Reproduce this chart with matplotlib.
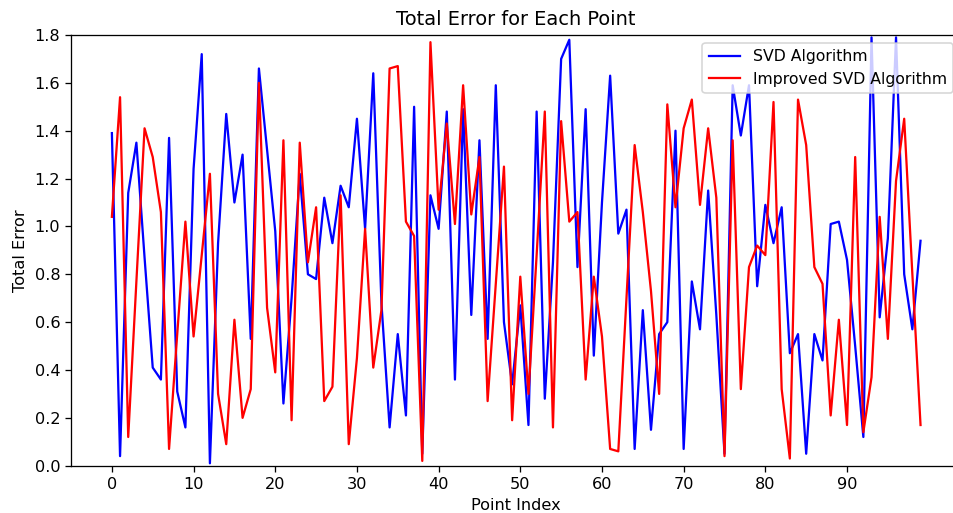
import matplotlib
matplotlib.use("Agg")
import matplotlib.pyplot as plt
import numpy as np

svd_errors = [
    1.39, 0.04, 1.14, 1.35, 0.87, 0.41, 0.36, 1.37, 0.31, 0.16,
    1.24, 1.72, 0.01, 0.93, 1.47, 1.10, 1.30, 0.53, 1.66, 1.32,
    0.98, 0.26, 0.70, 1.22, 0.80, 0.78, 1.12, 0.93, 1.17, 1.08,
    1.45, 0.99, 1.64, 0.68, 0.16, 0.55, 0.21, 1.50, 0.05, 1.13,
    0.99, 1.48, 0.36, 1.49, 0.63, 1.36, 0.53, 1.59, 0.60, 0.34,
    0.67, 0.17, 1.48, 0.28, 0.85, 1.70, 1.78, 0.83, 1.49, 0.46,
    1.10, 1.63, 0.97, 1.07, 0.07, 0.65, 0.15, 0.55, 0.60, 1.40,
    0.07, 0.77, 0.57, 1.15, 0.63, 0.05, 1.59, 1.38, 1.59, 0.75,
    1.09, 0.93, 1.08, 0.47, 0.55, 0.05, 0.55, 0.44, 1.01, 1.02,
    0.86, 0.50, 0.12, 1.79, 0.62, 0.95, 1.79, 0.80, 0.57, 0.94,
]

improved_errors = [
    1.04, 1.54, 0.12, 0.77, 1.41, 1.29, 1.06, 0.07, 0.55, 1.02,
    0.54, 0.88, 1.22, 0.30, 0.09, 0.61, 0.20, 0.32, 1.60, 0.66,
    0.39, 1.36, 0.19, 1.35, 0.85, 1.08, 0.27, 0.33, 1.13, 0.09,
    0.45, 0.99, 0.41, 0.65, 1.66, 1.67, 1.02, 0.96, 0.02, 1.77,
    1.07, 1.43, 1.01, 1.59, 1.05, 1.29, 0.27, 0.76, 1.25, 0.19,
    0.79, 0.30, 0.88, 1.48, 0.16, 1.44, 1.02, 1.06, 0.36, 0.79,
    0.54, 0.07, 0.06, 0.70, 1.34, 1.06, 0.73, 0.30, 1.51, 1.08,
    1.41, 1.53, 1.09, 1.41, 1.12, 0.04, 1.36, 0.32, 0.83, 0.92,
    0.88, 1.52, 0.32, 0.03, 1.53, 1.34, 0.83, 0.76, 0.21, 0.61,
    0.17, 1.29, 0.14, 0.37, 1.04, 0.53, 1.19, 1.45, 0.80, 0.17,
]

point_index = list(range(len(svd_errors)))
x_ticks = list(range(0, 100, 10))

DPI = 116
fig = plt.figure(figsize=(954 / DPI, 513 / DPI), dpi=DPI)
ax = fig.add_axes([0.0749, 0.0922, 0.9324, 0.8396])
ax.plot(point_index, svd_errors, color="blue", linewidth=1.4, label="SVD Algorithm")
ax.plot(point_index, improved_errors, color="red", linewidth=1.4, label="Improved SVD Algorithm")
ax.set_ylim(0, 1.8)
ax.set_xticks(x_ticks)
ax.set_title("Total Error for Each Point")
ax.set_xlabel("Point Index")
ax.set_ylabel("Total Error")
ax.legend(loc="upper right", fontsize=9.75)
fig.savefig("out.png", dpi=DPI)
